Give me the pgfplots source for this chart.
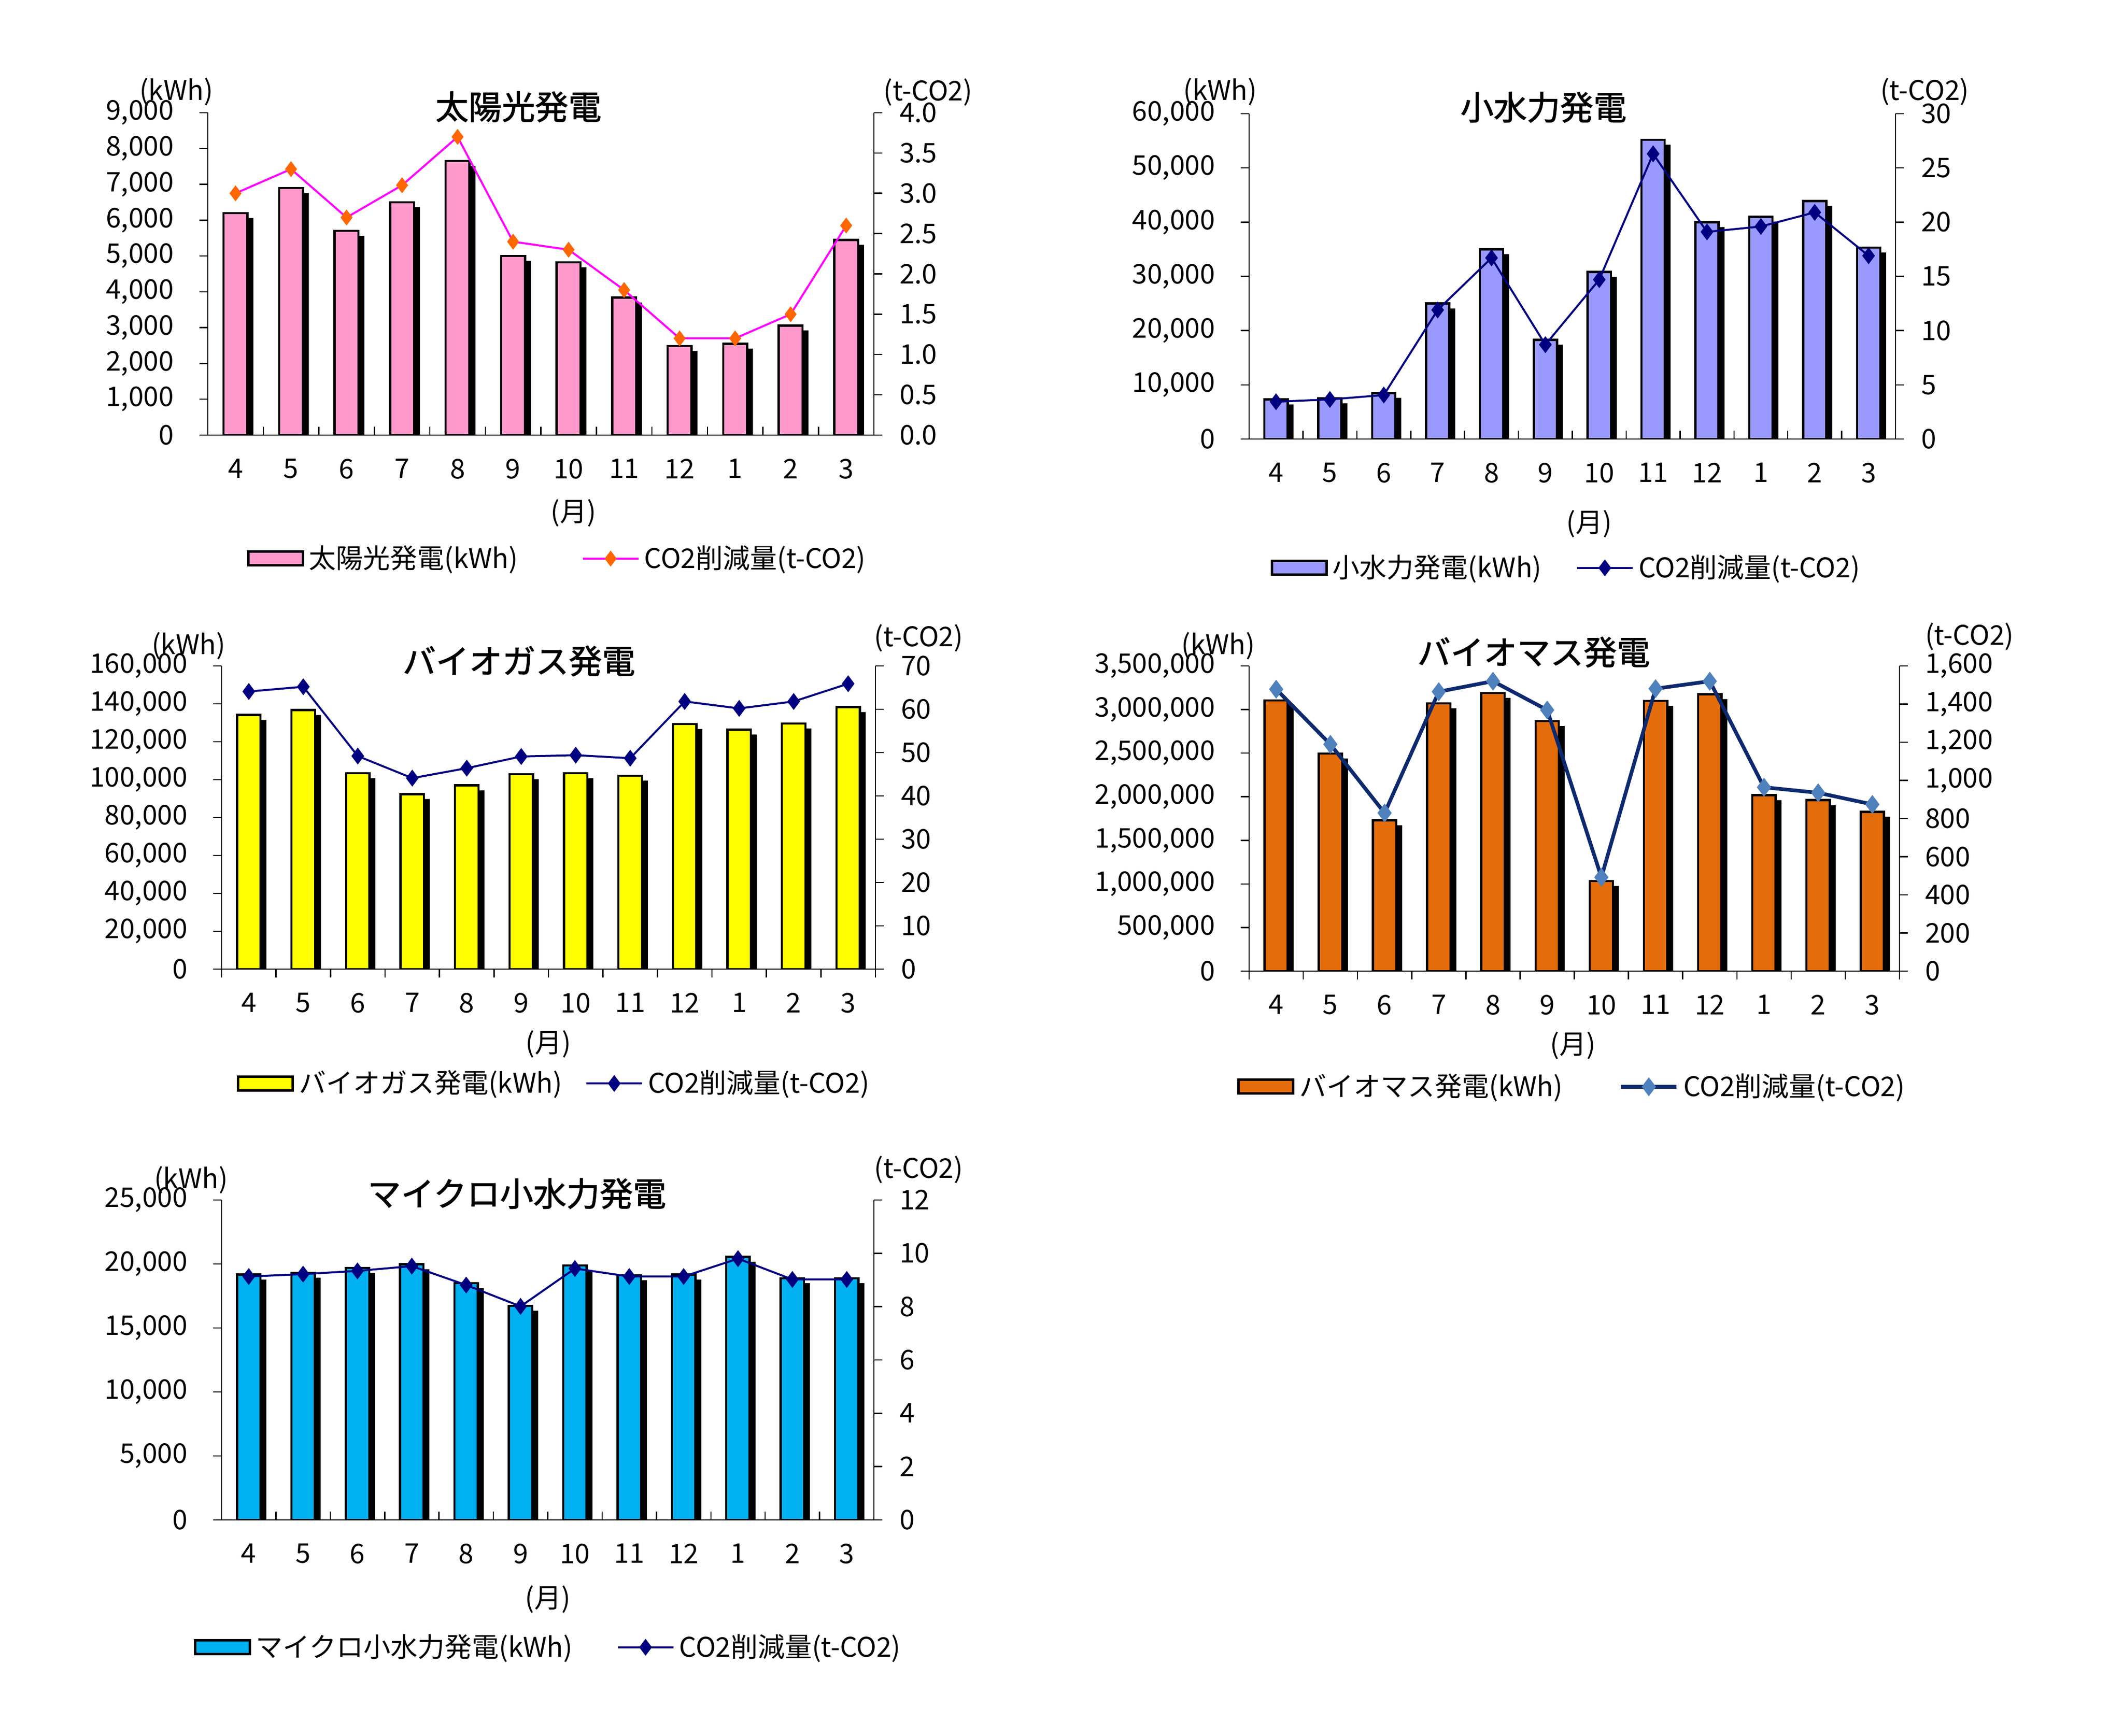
\documentclass[border=0pt]{standalone}
\usepackage{fontspec}
\setmainfont{Noto Sans CJK JP}
\newfontfamily\titlefont[FakeBold=1.5]{Noto Sans CJK JP}
\usepackage{pgfplots}
\usepackage{pgfplotstable}
\pgfplotsset{compat=1.18}

\definecolor{solarpink}{HTML}{FF99CC}
\definecolor{solarline}{HTML}{FF00FF}
\definecolor{solarmark}{HTML}{FF6600}
\definecolor{hydro}{HTML}{9999FF}
\definecolor{navy}{HTML}{000080}
\definecolor{biogas}{HTML}{FFFF00}
\definecolor{biomass}{HTML}{E46C0A}
\definecolor{biomassline}{HTML}{0E2A6E}
\definecolor{biomassmark}{HTML}{4F81BD}
\definecolor{micro}{HTML}{00B0F0}

\newcommand\fs{\fontsize{11}{13.2}\selectfont}
\newcommand\ts{\titlefont\fontsize{13.5}{16}\selectfont}

\pgfplotstableread{
x kwh co2
0 6200 3.0
1 6900 3.3
2 5700 2.7
3 6500 3.1
4 7650 3.7
5 5000 2.4
6 4820 2.3
7 3840 1.8
8 2490 1.2
9 2550 1.2
10 3060 1.5
11 5450 2.6
}\solar

\pgfplotstableread{
x kwh co2
0 7300 3.44
1 7500 3.65
2 8500 4.06
3 25000 11.9
4 35000 16.7
5 18300 8.7
6 30800 14.7
7 55200 26.3
8 40000 19.1
9 41000 19.6
10 43900 20.9
11 35300 16.9
}\hydro

\pgfplotstableread{
x kwh co2
0 134100 64.1
1 136700 65.2
2 103400 49.2
3 92400 44.1
4 97000 46.4
5 102800 49.1
6 103400 49.4
7 102100 48.7
8 129300 61.8
9 126400 60.2
10 129600 61.8
11 138300 65.9
}\biogas

\pgfplotstableread{
x kwh co2
0 3106000 1478
1 2495000 1189
2 1729000 829
3 3071000 1465
4 3190000 1520
5 2867000 1369
6 1033000 492
7 3099000 1481
8 3176000 1520
9 2017000 964
10 1961000 935
11 1827000 874
}\biomass

\pgfplotstableread{
x kwh co2
0 19170 9.13
1 19310 9.22
2 19690 9.34
3 19980 9.52
4 18500 8.81
5 16730 8.01
6 19890 9.43
7 19120 9.13
8 19170 9.13
9 20550 9.80
10 18880 9.02
11 18880 9.02
}\micro

\pgfplotsset{
  chartbase/.style={
    scale only axis, anchor=south west,
    xmin=-0.5, xmax=11.5, ymin=0,
    scaled y ticks=false,
    /pgf/number format/fixed,
    /pgf/number format/1000 sep={,},
    /pgf/number format/assume math mode=true,
    tick label style={font=\fs, black},
    axis line style={black, line width=0.5pt},
    every tick/.style={black, line width=0.5pt},
    major tick length=3.4pt, minor tick length=3.4pt,
  },
  leftaxis/.style={chartbase,
    axis y line*=left, axis x line*=bottom,
    xtick={0,...,11}, xticklabels={4,5,6,7,8,9,10,11,12,1,2,3},
    minor xtick={-0.5,0.5,...,11.5},
    major x tick style={draw=none},
    ytick align=outside,
    yticklabel style={xshift=-6.9pt},
  },
  rightaxis/.style={chartbase,
    axis y line*=right, axis x line=none, xtick=\empty,
    ytick align=outside,
    yticklabel style={xshift=3.5pt},
    legend style={draw=none, fill=none, legend columns=2, font=\fs,
      anchor=center, inner sep=0pt, cells={anchor=west}},
  },
  shadow/.style={ybar, bar width=0.43, bar shift=2.4pt, fill=black, draw=none, yshift=-2pt, forget plot},
  bars/.style={ybar, bar width=0.43, bar shift=0pt, fill=#1, draw=black, line width=0.9pt, forget plot},
  barleg/.style={legend image code/.code={\draw[fill=#1,draw=black,line width=1pt] (0pt,-2.8pt) rectangle (22.2pt,2.8pt);}},
  co2legend/.style={legend image code/.code={\draw[mark repeat=2,mark phase=2,##1] plot coordinates {(0pt,0pt) (11.3pt,0pt) (22.6pt,0pt)};}},
}

\begin{document}
\begin{tikzpicture}
\fill[white] (0pt,0pt) rectangle (862.4pt,705.2pt);
\path[use as bounding box] (0pt,0pt) rectangle (862.4pt,705.2pt);

% ---------- Chart 1: solar ----------
\begin{axis}[leftaxis, at={(84.4pt,528.4pt)}, width=270.6pt, height=131pt,
  ymax=9000, ytick={0,1000,2000,3000,4000,5000,6000,7000,8000,9000},
  xtick align=inside, xticklabel style={yshift=-6.1pt}]
\addplot[shadow] table[x=x,y=kwh]{\solar};
\addplot[bars=solarpink] table[x=x,y=kwh]{\solar};
\end{axis}
\begin{axis}[rightaxis, at={(84.4pt,528.4pt)}, width=270.6pt, height=131pt,
  ymax=4, ytick={0,0.5,1,1.5,2,2.5,3,3.5,4},
  yticklabel style={/pgf/number format/.cd,fixed,fixed zerofill,precision=1},
  legend style={at={(0.527,-0.383)}, /tikz/every even column/.append style={column sep=24pt}}]
\addlegendimage{barleg=solarpink}
\addlegendentry{太陽光発電(kWh)}
\addplot[color=solarline, line width=0.8pt, mark=diamond*, mark size=3pt,
  mark options={fill=solarmark, draw=solarmark, line width=0.3pt}, co2legend] table[x=x,y=co2]{\solar};
\addlegendentry{CO2削減量(t-CO2)}
\end{axis}

% ---------- Chart 2: small hydro ----------
\begin{axis}[leftaxis, at={(507.4pt,526.8pt)}, width=262.6pt, height=132.2pt,
  ymax=60000, ytick={0,10000,20000,30000,40000,50000,60000},
  xtick align=inside, xticklabel style={yshift=-6.1pt}]
\addplot[shadow] table[x=x,y=kwh]{\hydro};
\addplot[bars=hydro] table[x=x,y=kwh]{\hydro};
\end{axis}
\begin{axis}[rightaxis, at={(507.4pt,526.8pt)}, width=262.6pt, height=132.2pt,
  ymax=30, ytick={0,5,10,15,20,25,30},
  legend style={at={(0.493,-0.396)}, /tikz/every even column/.append style={column sep=12pt}}]
\addlegendimage{barleg=hydro}
\addlegendentry{小水力発電(kWh)}
\addplot[color=navy, line width=0.8pt, mark=diamond*, mark size=3.2pt,
  mark options={fill=navy, draw=navy, line width=0.3pt}, co2legend] table[x=x,y=co2]{\hydro};
\addlegendentry{CO2削減量(t-CO2)}
\end{axis}

% ---------- Chart 3: biogas ----------
\begin{axis}[leftaxis, at={(90pt,311.4pt)}, width=265.6pt, height=123.2pt,
  ymax=160000, ytick={0,20000,40000,60000,80000,100000,120000,140000,160000},
  xtick align=outside, xticklabel style={yshift=-2.7pt}]
\addplot[shadow] table[x=x,y=kwh]{\biogas};
\addplot[bars=biogas] table[x=x,y=kwh]{\biogas};
\end{axis}
\begin{axis}[rightaxis, at={(90pt,311.4pt)}, width=265.6pt, height=123.2pt,
  ymax=70, ytick={0,10,20,30,40,50,60,70},
  legend style={at={(0.511,-0.377)}, /tikz/every even column/.append style={column sep=7.5pt}}]
\addlegendimage{barleg=biogas}
\addlegendentry{バイオガス発電(kWh)}
\addplot[color=navy, line width=0.8pt, mark=diamond*, mark size=3.2pt,
  mark options={fill=navy, draw=navy, line width=0.3pt}, co2legend] table[x=x,y=co2]{\biogas};
\addlegendentry{CO2削減量(t-CO2)}
\end{axis}

% ---------- Chart 4: biomass ----------
\begin{axis}[leftaxis, at={(507.4pt,310.6pt)}, width=264.2pt, height=124pt,
  ymax=3500000, ytick={0,500000,1000000,1500000,2000000,2500000,3000000,3500000},
  xtick align=outside, xticklabel style={yshift=-2.7pt}]
\addplot[shadow] table[x=x,y=kwh]{\biomass};
\addplot[bars=biomass] table[x=x,y=kwh]{\biomass};
\end{axis}
\begin{axis}[rightaxis, at={(507.4pt,310.6pt)}, width=264.2pt, height=124pt,
  ymax=1600, ytick={0,200,400,600,800,1000,1200,1400,1600},
  legend style={at={(0.499,-0.379)}, /tikz/every even column/.append style={column sep=21pt}}]
\addlegendimage{barleg=biomass}
\addlegendentry{バイオマス発電(kWh)}
\addplot[color=biomassline, line width=1.5pt, mark=diamond*, mark size=3.6pt,
  mark options={fill=biomassmark, draw=biomassmark, line width=0.3pt}, co2legend] table[x=x,y=co2]{\biomass};
\addlegendentry{CO2削減量(t-CO2)}
\end{axis}

% ---------- Chart 5: micro hydro ----------
\begin{axis}[leftaxis, at={(90pt,87.6pt)}, width=265pt, height=130pt,
  ymax=25000, ytick={0,5000,10000,15000,20000,25000},
  xtick align=inside, xticklabel style={yshift=-6.1pt}]
\addplot[shadow] table[x=x,y=kwh]{\micro};
\addplot[bars=micro] table[x=x,y=kwh]{\micro};
\end{axis}
\begin{axis}[rightaxis, at={(90pt,87.6pt)}, width=265pt, height=130pt,
  ymax=12, ytick={0,2,4,6,8,10,12},
  legend style={at={(0.503,-0.398)}, /tikz/every even column/.append style={column sep=16pt}}]
\addlegendimage{barleg=micro}
\addlegendentry{マイクロ小水力発電(kWh)}
\addplot[color=navy, line width=0.8pt, mark=diamond*, mark size=3.2pt,
  mark options={fill=navy, draw=navy, line width=0.3pt}, co2legend] table[x=x,y=co2]{\micro};
\addlegendentry{CO2削減量(t-CO2)}
\end{axis}

% ---------- texts ----------
\node[font=\fs] at (71.6pt,668pt) {(kWh)};
\node[font=\fs] at (377pt,667.8pt) {(t-CO2)};
\node[font=\ts] at (210.6pt,661.8pt) {太陽光発電};
\node[font=\fs] at (233pt,496.8pt) {(月)};

\node[font=\fs] at (495.6pt,668pt) {(kWh)};
\node[font=\fs] at (781.8pt,668pt) {(t-CO2)};
\node[font=\ts] at (627pt,661.6pt) {小水力発電};
\node[font=\fs] at (645.6pt,492.4pt) {(月)};

\node[font=\fs] at (76.6pt,442.8pt) {(kWh)};
\node[font=\fs] at (373.2pt,446pt) {(t-CO2)};
\node[font=\ts] at (210.8pt,436.6pt) {バイオガス発電};
\node[font=\fs] at (222.8pt,281pt) {(月)};

\node[font=\fs] at (494.8pt,442.8pt) {(kWh)};
\node[font=\fs] at (800pt,446.5pt) {(t-CO2)};
\node[font=\ts] at (623pt,440.2pt) {バイオマス発電};
\node[font=\fs] at (639pt,280.4pt) {(月)};

\node[font=\fs] at (77.6pt,225.8pt) {(kWh)};
\node[font=\fs] at (373.2pt,230pt) {(t-CO2)};
\node[font=\ts] at (210pt,220.2pt) {マイクロ小水力発電};
\node[font=\fs] at (222.6pt,55.4pt) {(月)};
\end{tikzpicture}
\end{document}
